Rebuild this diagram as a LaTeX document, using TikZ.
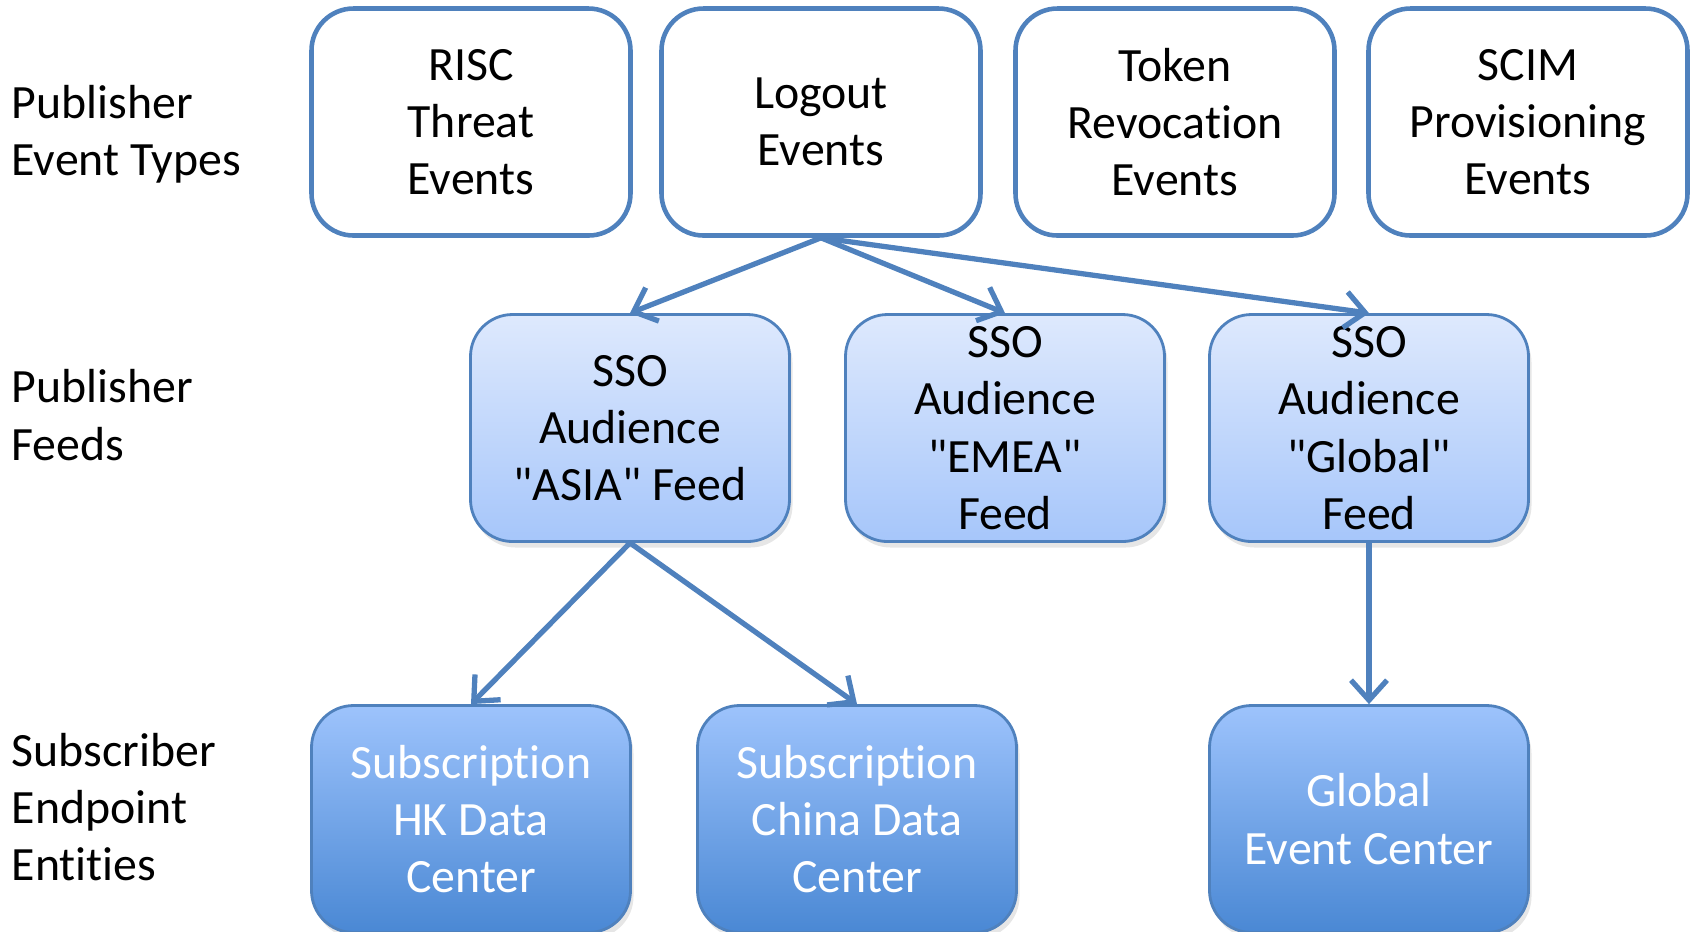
\documentclass[tikz,border=0pt]{standalone}
\usepackage{fontspec}
\setmainfont{Carlito}[Ligatures={NoCommon}]
\usetikzlibrary{arrows.meta,shadows}
\definecolor{edgeblue}{RGB}{79,129,189}
\definecolor{feedtop}{RGB}{222,233,253}
\definecolor{feedbot}{RGB}{166,198,250}
\definecolor{subtop}{RGB}{157,195,252}
\definecolor{subbot}{RGB}{74,136,212}
\newcommand{\boxfont}{\fontsize{13.6pt}{16.3pt}\selectfont}
\newcommand{\dq}{\textquotedbl}

\begin{document}
\begin{tikzpicture}[evtbox/.style = {draw = edgeblue, line width = 1.3pt, fill = white,
                        rounded corners = 0.42cm, minimum width = 3.19cm, minimum height = 2.27cm,
                        inner sep = 0pt, align = center, font = \boxfont},
                    feedbox/.style = {draw = edgeblue, line width = 0.8pt, rounded corners = 0.42cm,
                        top color = feedtop, bottom color = feedbot, minimum width = 3.19cm,
                        minimum height = 2.27cm, inner sep = 0pt, align = center, font = \boxfont,
                        drop shadow = {opacity = 0.2, shadow xshift = 0.03cm, shadow yshift = -0.06cm}},
                    subbox/.style = {feedbox, top color = subtop, bottom color = subbot, text = white},
                    rowlabel/.style = {anchor = west, align = left, inner sep = 0pt, font = \boxfont},
                    flow/.style = {draw = edgeblue, line width = 1.5pt,
                        -{Straight Barb[length = 2mm, width = 3.6mm]}}]
    \useasboundingbox (0,0) rectangle (16.94,-9.31);
    % row labels
    \node[rowlabel] (lblTypes) at (0.11,-1.34) {Publisher\\Event Types};
    \node[rowlabel] (lblFeeds) at (0.11,-4.15) {Publisher\\Feeds};
    \node[rowlabel] (lblSubs) at (0.11,-8.07) {Subscriber\\Endpoint\\Entities};
    % event types
    \node[evtbox] (risc) at (4.71,-1.22) {RISC\\Threat\\Events};
    \node[evtbox] (logout) at (8.21,-1.22) {Logout\\Events};
    \node[evtbox] (token) at (11.75,-1.22) {Token\\Revocation\\Events};
    \node[evtbox] (scim) at (15.28,-1.22) {SCIM\\Provisioning\\Events};
    % feeds
    \node[feedbox] (asia) at (6.30,-4.28) {SSO\\Audience\\\dq ASIA\dq{} Feed};
    \node[feedbox] (emea) at (10.05,-4.28) {SSO\\Audience\\\dq EMEA\dq\\Feed};
    \node[feedbox] (global) at (13.69,-4.28) {SSO\\Audience\\\dq Global\dq\\Feed};
    % subscribers
    \node[subbox] (hk) at (4.71,-8.19) {Subscription\\HK Data\\Center};
    \node[subbox] (china) at (8.57,-8.19) {Subscription\\China Data\\Center};
    \node[subbox] (gec) at (13.69,-8.19) {Global\\Event Center};
    % connectors
    \draw[flow] (logout.south) -- (asia.north);
    \draw[flow] (logout.south) -- (emea.north);
    \draw[flow] (logout.south) -- (global.north);
    \draw[flow] (asia.south) -- (hk.north);
    \draw[flow] (asia.south) -- (china.north);
    \draw[flow] (global.south) -- (gec.north);
\end{tikzpicture}
\end{document}
